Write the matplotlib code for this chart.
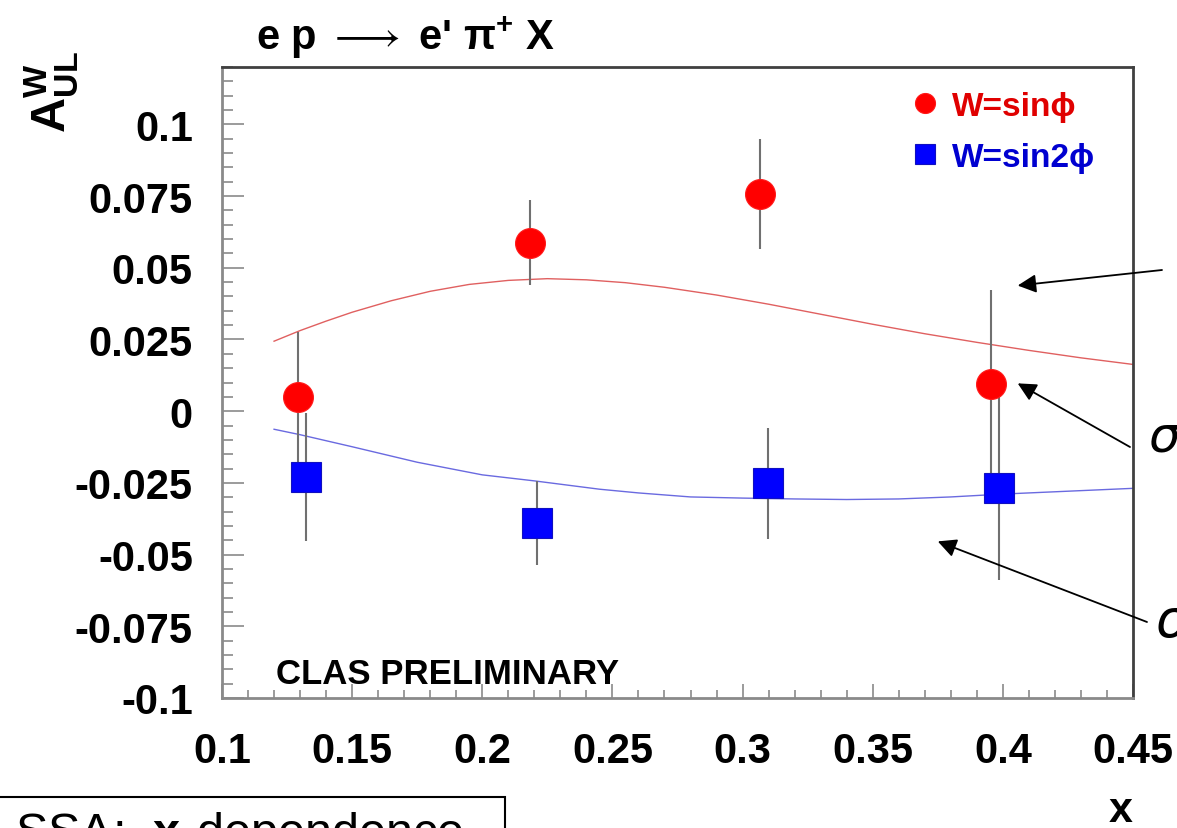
import matplotlib
matplotlib.use("Agg")
import matplotlib.pyplot as plt
from matplotlib.patches import Rectangle

plt.rcParams['font.family'] = ['Liberation Sans', 'DejaVu Sans']
plt.rcParams['mathtext.fontset'] = 'custom'
plt.rcParams['mathtext.rm'] = 'Liberation Sans'
plt.rcParams['mathtext.it'] = 'Liberation Sans:italic'
plt.rcParams['mathtext.bf'] = 'Liberation Sans:bold'
plt.rcParams['mathtext.fallback'] = 'cm'
plt.rcParams['axes.unicode_minus'] = False

# measured asymmetries, W = sin(phi)
x_sin = [0.1293, 0.2183, 0.3066, 0.3956]
a_sin = [0.0050, 0.0588, 0.0758, 0.0096]
e_sin = [0.0227, 0.0148, 0.0192, 0.0326]

# measured asymmetries, W = sin(2phi)
x_sin2 = [0.1323, 0.2210, 0.3098, 0.3984]
a_sin2 = [-0.0229, -0.0389, -0.0252, -0.0269]
e_sin2 = [0.0224, 0.0146, 0.0193, 0.0320]

# model curves
x_model_sin = [0.12, 0.13, 0.14, 0.15, 0.165, 0.18, 0.195, 0.21, 0.225, 0.24, 0.255,
               0.27, 0.29, 0.31, 0.33, 0.35, 0.37, 0.39, 0.41, 0.43, 0.45]
y_model_sin = [0.0244, 0.0281, 0.0314, 0.0345, 0.0385, 0.0418, 0.0442, 0.0456, 0.0462,
               0.0458, 0.0448, 0.0432, 0.0405, 0.0373, 0.0338, 0.0303, 0.0270, 0.0240,
               0.0212, 0.0186, 0.0163]
x_model_sin2 = [0.12, 0.13, 0.15, 0.175, 0.2, 0.22, 0.245, 0.26, 0.28, 0.3, 0.32, 0.34,
                0.36, 0.38, 0.4, 0.425, 0.45]
y_model_sin2 = [-0.0063, -0.0082, -0.0124, -0.0178, -0.0222, -0.0243, -0.0272, -0.0285,
                -0.0299, -0.0303, -0.0306, -0.0308, -0.0306, -0.0299, -0.0289, -0.0279,
                -0.0269]

y_ticks = [0.1, 0.075, 0.05, 0.025, 0.0, -0.025, -0.05, -0.075, -0.1]
y_ticklabels = ['0.1', '0.075', '0.05', '0.025', '0', '-0.025', '-0.05', '-0.075', '-0.1']
x_ticks = [0.1, 0.15, 0.2, 0.25, 0.3, 0.35, 0.4, 0.45]
x_ticklabels = ['0.1', '0.15', '0.2', '0.25', '0.3', '0.35', '0.4', '0.45']

W, H = 1177, 829
fig = plt.figure(figsize=(W / 100, H / 100), dpi=100)
ax = fig.add_axes([222 / W, 1 - 699 / H, (1133 - 222) / W, (699 - 68) / H])

ax.plot(x_model_sin, y_model_sin, color='#e06060', lw=1.0, zorder=1)
ax.plot(x_model_sin2, y_model_sin2, color='#6a6ae0', lw=1.0, zorder=1)

ax.errorbar(x_sin, a_sin, yerr=e_sin, fmt='none', ecolor='#707070', elinewidth=1.5, zorder=2)
ax.errorbar(x_sin2, a_sin2, yerr=e_sin2, fmt='none', ecolor='#707070', elinewidth=1.5, zorder=2)
ax.plot(x_sin, a_sin, 'o', color='#ff0000', ms=21.5, mec='#ff1a1a', mew=0.8,
        ls='none', zorder=3, label='W=sinϕ')
ax.plot(x_sin2, a_sin2, 's', color='#0000ff', ms=21, mec='#1010c0', mew=0.8,
        ls='none', zorder=3, label='W=sin2ϕ')

ax.set_xlim(0.1, 0.45)
ax.set_ylim(-0.1, 0.12)
ax.set_xticks(x_ticks)
ax.set_xticklabels(x_ticklabels)
ax.set_yticks(y_ticks)
ax.set_yticklabels(y_ticklabels)
ax.set_xticks([v / 100 for v in range(10, 46)], minor=True)
ax.set_yticks([v / 1000 for v in range(-100, 121, 5)], minor=True)

ax.tick_params(which='both', direction='in', color='#8a8a8a', width=1.2,
               top=False, right=False)
ax.tick_params(axis='y', which='major', length=16, pad=21)
ax.tick_params(axis='y', which='minor', length=8)
ax.tick_params(axis='x', which='major', length=10, pad=24)
ax.tick_params(axis='x', which='minor', length=6)
for lab in ax.get_xticklabels() + ax.get_yticklabels():
    lab.set_fontsize(30)
    lab.set_fontweight('bold')

for side in ['left', 'bottom']:
    ax.spines[side].set_color('#8a8a8a')
    ax.spines[side].set_linewidth(2.0)
for side in ['top', 'right']:
    ax.spines[side].set_color('#404040')
    ax.spines[side].set_linewidth(2.0)

leg = ax.legend(loc='upper left', bbox_to_anchor=(0.757, 0.962), frameon=False,
                fontsize=24, markerscale=0.67, handlelength=0.8, handletextpad=0.4,
                labelspacing=0.6, borderpad=0, borderaxespad=0)
for txt, col in zip(leg.get_texts(), ['#e00000', '#0000d0']):
    txt.set_color(col)
    txt.set_fontweight('bold')

ax.text(0.0593, 0.0238, 'CLAS PRELIMINARY', transform=ax.transAxes,
        fontsize=25, fontweight='bold', ha='left', va='baseline')

# title, axis labels
fig.text(256 / W, 1 - 50 / H, "e p $\\longrightarrow$ e' π$^{\\mathbf{+}}$ X", fontsize=30,
         fontweight='bold', ha='left', va='baseline')
fig.text(52 / W, 1 - 92 / H, r'$\mathbf{A}^{\mathbf{W}}_{\mathbf{UL}}$', fontsize=35,
         rotation=90, ha='center', va='center')
fig.text(1133 / W, 1 - 822 / H, 'x', fontsize=31, fontweight='bold',
         ha='right', va='baseline')

# arrows pointing into the plot from the side notes
arrow_kw = dict(arrowstyle='-|>', color='black', lw=1.3, mutation_scale=28,
                shrinkA=0, shrinkB=0)
ax.annotate('', xy=(0.4057, 0.0438), xycoords='data',
            xytext=(1162 / W, 1 - 271 / H), textcoords='figure fraction',
            arrowprops=arrow_kw, annotation_clip=False)
ax.annotate('', xy=(0.4057, 0.0097), xycoords='data',
            xytext=(1130 / W, 1 - 448 / H), textcoords='figure fraction',
            arrowprops=arrow_kw, annotation_clip=False)
ax.annotate('', xy=(0.375, -0.0454), xycoords='data',
            xytext=(1147 / W, 1 - 623 / H), textcoords='figure fraction',
            arrowprops=arrow_kw, annotation_clip=False)
fig.text(1148 / W, 1 - 437 / H, 'σ', fontsize=36, fontstyle='italic',
         family=['DejaVu Sans'], ha='left', va='center')
fig.text(1155 / W, 1 - 622 / H, 'σ', fontsize=38, fontstyle='italic',
         family=['DejaVu Sans'], ha='left', va='center')

# caption box in the lower left corner
fig.add_artist(Rectangle((-0.01, -0.05), 505 / W + 0.01, 0.05 + 1 - 798 / H,
                         transform=fig.transFigure, facecolor='white',
                         edgecolor='black', lw=1.5))
fig.text(15 / W, 1 - 847 / H, r'SSA:  $\mathbf{x}$-dependence', fontsize=35,
         ha='left', va='baseline')

fig.savefig('out.png', dpi=100)
